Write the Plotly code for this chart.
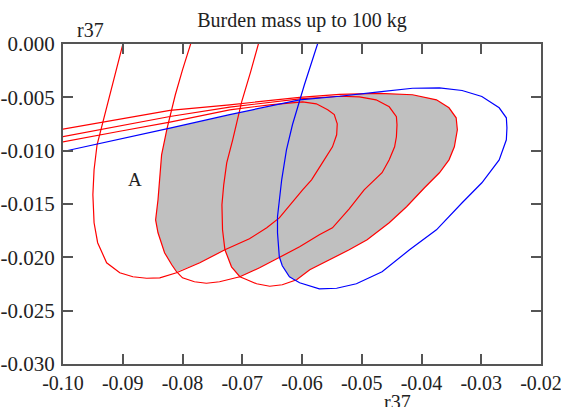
import plotly.graph_objects as go

# Contour of the first red region (r37 on both axes)
red1_x = [-0.1013, -0.1000, -0.0905, -0.0821, -0.0721, -0.0654, -0.0599, -0.0576, -0.0557, -0.0546,
          -0.0541, -0.0542, -0.0549, -0.0566, -0.0584, -0.0599, -0.0617, -0.0638, -0.0659, -0.0688,
          -0.0729, -0.0771, -0.0810, -0.0838, -0.0860, -0.0883, -0.0905, -0.0927, -0.0942, -0.0948,
          -0.0950, -0.0948, -0.0943, -0.0933, -0.0922, -0.0910, -0.0900, -0.0897]
red1_y = [-0.00931, -0.00917, -0.00818, -0.00732, -0.00617, -0.00570, -0.00542, -0.00561, -0.00617, -0.00662,
          -0.00748, -0.00851, -0.00964, -0.01114, -0.01273, -0.01367, -0.01488, -0.01630, -0.01723, -0.01826,
          -0.01929, -0.02051, -0.02145, -0.02192, -0.02196, -0.02182, -0.02145, -0.02051, -0.01863, -0.01676,
          -0.01413, -0.01179, -0.00945, -0.00729, -0.00476, -0.00223, 0.0, 0.0006]

red2_x = [-0.1013, -0.1000, -0.0905, -0.0821, -0.0721, -0.0604, -0.0537, -0.0504, -0.0476, -0.0454,
          -0.0442, -0.0441, -0.0442, -0.0445, -0.0454, -0.0466, -0.0496, -0.0521, -0.0549, -0.0571,
          -0.0604, -0.0638, -0.0671, -0.0704, -0.0738, -0.0760, -0.0780, -0.0800, -0.0810, -0.0818,
          -0.0830, -0.0841, -0.0845, -0.0841, -0.0835, -0.0826, -0.0818, -0.0812, -0.0800, -0.0786, -0.0783]
red2_y = [-0.00881, -0.00867, -0.00767, -0.00680, -0.00592, -0.00514, -0.00490, -0.00495, -0.00523, -0.00589,
          -0.00682, -0.00757, -0.00870, -0.00964, -0.01086, -0.01207, -0.01367, -0.01545, -0.01723, -0.01788,
          -0.01901, -0.02004, -0.02098, -0.02182, -0.02229, -0.02243, -0.02229, -0.02192, -0.02135, -0.02070,
          -0.01957, -0.01770, -0.01649, -0.01460, -0.01039, -0.00795, -0.00617, -0.00476, -0.00242, 0.0, 0.0006]

red3_x = [-0.1013, -0.1000, -0.0905, -0.0821, -0.0721, -0.0604, -0.0537, -0.0471, -0.0415, -0.0375,
          -0.0354, -0.0342, -0.0340, -0.0345, -0.0354, -0.0370, -0.0395, -0.0425, -0.0454, -0.0491,
          -0.0521, -0.0554, -0.0587, -0.0609, -0.0633, -0.0654, -0.0676, -0.0696, -0.0704, -0.0718,
          -0.0729, -0.0733, -0.0734, -0.0731, -0.0726, -0.0716, -0.0701, -0.0686, -0.0673, -0.0670]
red3_y = [-0.00811, -0.00798, -0.00706, -0.00623, -0.00570, -0.00500, -0.00472, -0.00462, -0.00476, -0.00523,
          -0.00598, -0.00692, -0.00804, -0.00964, -0.01086, -0.01207, -0.01348, -0.01526, -0.01676, -0.01835,
          -0.01929, -0.02023, -0.02117, -0.02210, -0.02257, -0.02271, -0.02248, -0.02201, -0.02182, -0.02089,
          -0.01929, -0.01742, -0.01507, -0.01320, -0.01114, -0.00898, -0.00542, -0.00261, 0.0, 0.0006]

blue_x = [-0.1013, -0.1000, -0.0821, -0.0721, -0.0604, -0.0537, -0.0471, -0.0415, -0.0370, -0.0332,
          -0.0299, -0.0270, -0.0258, -0.0257, -0.0258, -0.0270, -0.0299, -0.0332, -0.0375, -0.0420,
          -0.0466, -0.0509, -0.0542, -0.0571, -0.0604, -0.0621, -0.0633, -0.0638, -0.0641, -0.0641,
          -0.0634, -0.0626, -0.0616, -0.0596, -0.0574, -0.0572]
blue_y = [-0.01025, -0.01008, -0.00788, -0.00662, -0.00523, -0.00490, -0.00448, -0.00415, -0.00411, -0.00436,
          -0.00492, -0.00598, -0.00692, -0.00786, -0.00898, -0.01086, -0.01301, -0.01488, -0.01742, -0.01929,
          -0.02135, -0.02248, -0.02290, -0.02295, -0.02238, -0.02182, -0.02079, -0.01995, -0.01770, -0.01620,
          -0.01273, -0.00992, -0.00757, -0.00382, 0.0, 0.0006]

# Shaded overlap region
shade_x = [-0.0826, -0.0771, -0.0721, -0.0663, -0.0604, -0.0537, -0.0496, -0.0471, -0.0415, -0.0375,
           -0.0354, -0.0342, -0.0340, -0.0345, -0.0354, -0.0370, -0.0395, -0.0425, -0.0454, -0.0491,
           -0.0521, -0.0554, -0.0587, -0.0609, -0.0621, -0.0633, -0.0638, -0.0671, -0.0704, -0.0718,
           -0.0729, -0.0771, -0.0810, -0.0818, -0.0830, -0.0841, -0.0845, -0.0841, -0.0835]
shade_y = [-0.00795, -0.00725, -0.00662, -0.00593, -0.00523, -0.00490, -0.00467, -0.00462, -0.00476, -0.00523,
           -0.00598, -0.00692, -0.00804, -0.00964, -0.01086, -0.01207, -0.01348, -0.01526, -0.01676, -0.01835,
           -0.01929, -0.02023, -0.02117, -0.02210, -0.02182, -0.02079, -0.01995, -0.02098, -0.02182, -0.02089,
           -0.01929, -0.02051, -0.02135, -0.02070, -0.01957, -0.01770, -0.01649, -0.01460, -0.01039]

x_tick_vals = [-0.10, -0.09, -0.08, -0.07, -0.06, -0.05, -0.04, -0.03, -0.02]
x_tick_text = ["-0.10", "-0.09", "-0.08", "-0.07", "-0.06", "-0.05", "-0.04", "-0.03", "-0.02"]
y_tick_vals = [0.0, -0.005, -0.010, -0.015, -0.020, -0.025, -0.030]
y_tick_text = ["0.000", "-0.005", "-0.010", "-0.015", "-0.020", "-0.025", "-0.030"]

label_a = ("A", -0.0880, -0.01273)

SERIF = "Liberation Serif, Times New Roman, serif"
RED = "#ff0000"
BLUE = "#0000ff"
TEXT = "#222222"

fig = go.Figure()
fig.add_trace(go.Scatter(x=shade_x, y=shade_y, mode="lines", fill="toself",
                         fillcolor="#c0c0c0", line=dict(width=0), hoverinfo="skip"))
for xs, ys in [(red1_x, red1_y), (red2_x, red2_y), (red3_x, red3_y)]:
    fig.add_trace(go.Scatter(x=xs, y=ys, mode="lines", line=dict(color=RED, width=1.2),
                             hoverinfo="skip"))
fig.add_trace(go.Scatter(x=blue_x, y=blue_y, mode="lines", line=dict(color=BLUE, width=1.2),
                         hoverinfo="skip"))

axis_common = dict(showgrid=False, zeroline=False, showline=True, linecolor="#555555",
                   linewidth=2, mirror="ticks", ticks="inside", ticklen=10, tickwidth=1.5,
                   tickcolor="#555555", ticklabeloverflow="allow", automargin=False)

fig.update_layout(
    width=561, height=407,
    margin=dict(l=63, r=20, t=44, b=43, autoexpand=False),
    paper_bgcolor="white", plot_bgcolor="white",
    showlegend=False,
    font=dict(family=SERIF, size=20, color=TEXT),
    title=dict(text="Burden mass up to 100 kg", x=0.5, xref="paper", xanchor="center",
               y=1 - 20 / 407, yref="container", yanchor="middle", automargin=False,
               font=dict(family=SERIF, size=20, color=TEXT)),
    xaxis=dict(range=[-0.1, -0.02], tickvals=x_tick_vals, ticktext=x_tick_text,
               tickfont=dict(family=SERIF, size=20, color=TEXT), **axis_common),
    yaxis=dict(range=[-0.03, 0.0], tickvals=y_tick_vals, ticktext=y_tick_text,
               ticklabelstandoff=2, tickfont=dict(family=SERIF, size=21, color=TEXT),
               **axis_common),
    annotations=[
        dict(text=label_a[0], x=label_a[1], y=label_a[2], xref="x", yref="y", showarrow=False,
             font=dict(family=SERIF, size=19, color=TEXT)),
        dict(text="r37", x=0.057, y=1.045, xref="paper", yref="paper", showarrow=False,
             xanchor="center", yanchor="middle", font=dict(family=SERIF, size=20, color=TEXT)),
        dict(text="r37", x=0.700, y=-0.078, xref="paper", yref="paper", showarrow=False,
             xanchor="center", yanchor="top", font=dict(family=SERIF, size=20, color=TEXT)),
    ],
)

fig.write_html("out.html")
